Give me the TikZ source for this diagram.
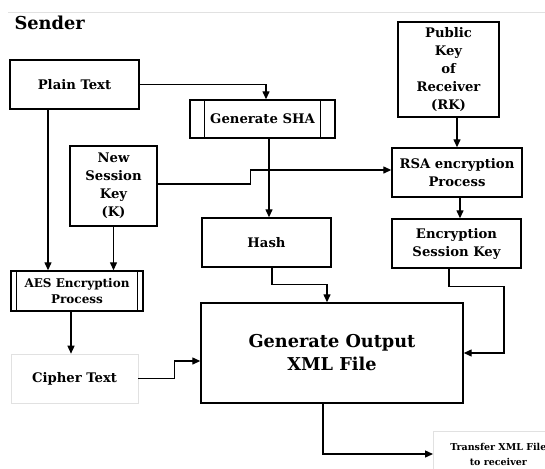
\documentclass[tikz,border=0pt]{standalone}
\usepackage{fontspec}
\setmainfont{DejaVu Serif}
\usetikzlibrary{arrows.meta,positioning}
\definecolor{lightrule}{RGB}{225,225,225}

\begin{document}
\begin{tikzpicture}[x=1pt,y=-1pt,
  blk/.style={rectangle,draw,line width=1.4pt,align=center,inner sep=2pt,
              font=\fontsize{13.2}{18}\selectfont\bfseries},
  soft/.style={blk,draw=lightrule,line width=0.6pt},
  arr/.style={-{Triangle[length=8pt,width=7pt]},line width=1.3pt}]
\useasboundingbox (0,0) rectangle (545,468);
\draw[lightrule,line width=0.8pt] (8,12) -- (545,12);
\node[anchor=west,font=\fontsize{17.8}{20}\selectfont\bfseries] (sender) at (11,23) {Sender};
\node[blk,minimum width=129,minimum height=49]  (plain) at (74.5,84.5)  {Plain Text};
\node[blk,minimum width=145,minimum height=38]  (sha)   at (262.5,119)  {Generate SHA};
\node[blk,minimum width=101,minimum height=95]  (pub)   at (448.5,69.5) {Public\\Key\\of\\Receiver\\(RK)};
\node[blk,minimum width=130,minimum height=49]  (rsa)   at (457,172.5)  {RSA encryption\\Process};
\node[blk,minimum width=129,minimum height=49]  (esk)   at (456.5,243.5){Encryption\\Session Key};
\node[blk,minimum width=129,minimum height=49]  (hash)  at (266.5,242.5){Hash};
\node[blk,minimum width=87,minimum height=80]   (nsk)   at (113.5,186)  {New\\Session\\Key\\(K)};
\node[blk,minimum width=132,minimum height=40,font=\fontsize{12}{16}\selectfont\bfseries] (aes) at (77,291) {AES Encryption\\Process};
\node[soft,minimum width=127,minimum height=49] (cipher) at (74.5,378.5) {Cipher Text};
\node[blk,minimum width=262,minimum height=100,font=\fontsize{17.7}{23}\selectfont\bfseries] (gen) at (332,353) {Generate Output\\XML File};
\node[soft,anchor=west,minimum width=130,minimum height=46,font=\fontsize{9.5}{15}\selectfont\bfseries] (xfer) at (433,454) {Transfer XML File\\to receiver};
% side bars of the process boxes
\draw[line width=1.2pt] ([xshift=15]sha.north west) -- ([xshift=15]sha.south west);
\draw[line width=1.2pt] ([xshift=-15]sha.north east) -- ([xshift=-15]sha.south east);
\draw[line width=1.2pt] ([xshift=6]aes.north west) -- ([xshift=6]aes.south west);
\draw[line width=1.2pt] ([xshift=-6]aes.north east) -- ([xshift=-6]aes.south east);
% connectors
\draw[arr] (plain.east) -| ([xshift=3.5]sha.north);
\draw[arr] ([xshift=6.5]sha.south) -- ([xshift=6.5]sha.south |- hash.north);
\draw[arr] (rsa.north |- pub.south) -- (rsa.north);
\draw[arr] ([xshift=3]rsa.south) -- ([xshift=3]rsa.south |- esk.north);
\draw[arr] ([shift={(0,-2)}]nsk.east) -- ++(93,0) |- ([shift={(0,-2.5)}]rsa.west);
\draw[arr] ([xshift=-26.5]plain.south) -- ([xshift=-26.5]plain.south |- aes.north);
\draw[arr] (nsk.south) -- (nsk.south |- aes.north);
\draw[arr] ([xshift=-6]aes.south) -- ([xshift=-6]aes.south |- cipher.north);
\draw[arr] (cipher.east) -- ++(36,0) |- ([shift={(0,8)}]gen.west);
\draw[arr] ([xshift=5.5]hash.south) -- ++(0,17) -| ([xshift=-5]gen.north);
\draw[arr] ([xshift=-7.5]esk.south) -- ++(0,18) -- ++(55,0) |- (gen.east);
\draw[arr] ([xshift=-9]gen.south) |- (xfer.west);
\end{tikzpicture}
\end{document}
